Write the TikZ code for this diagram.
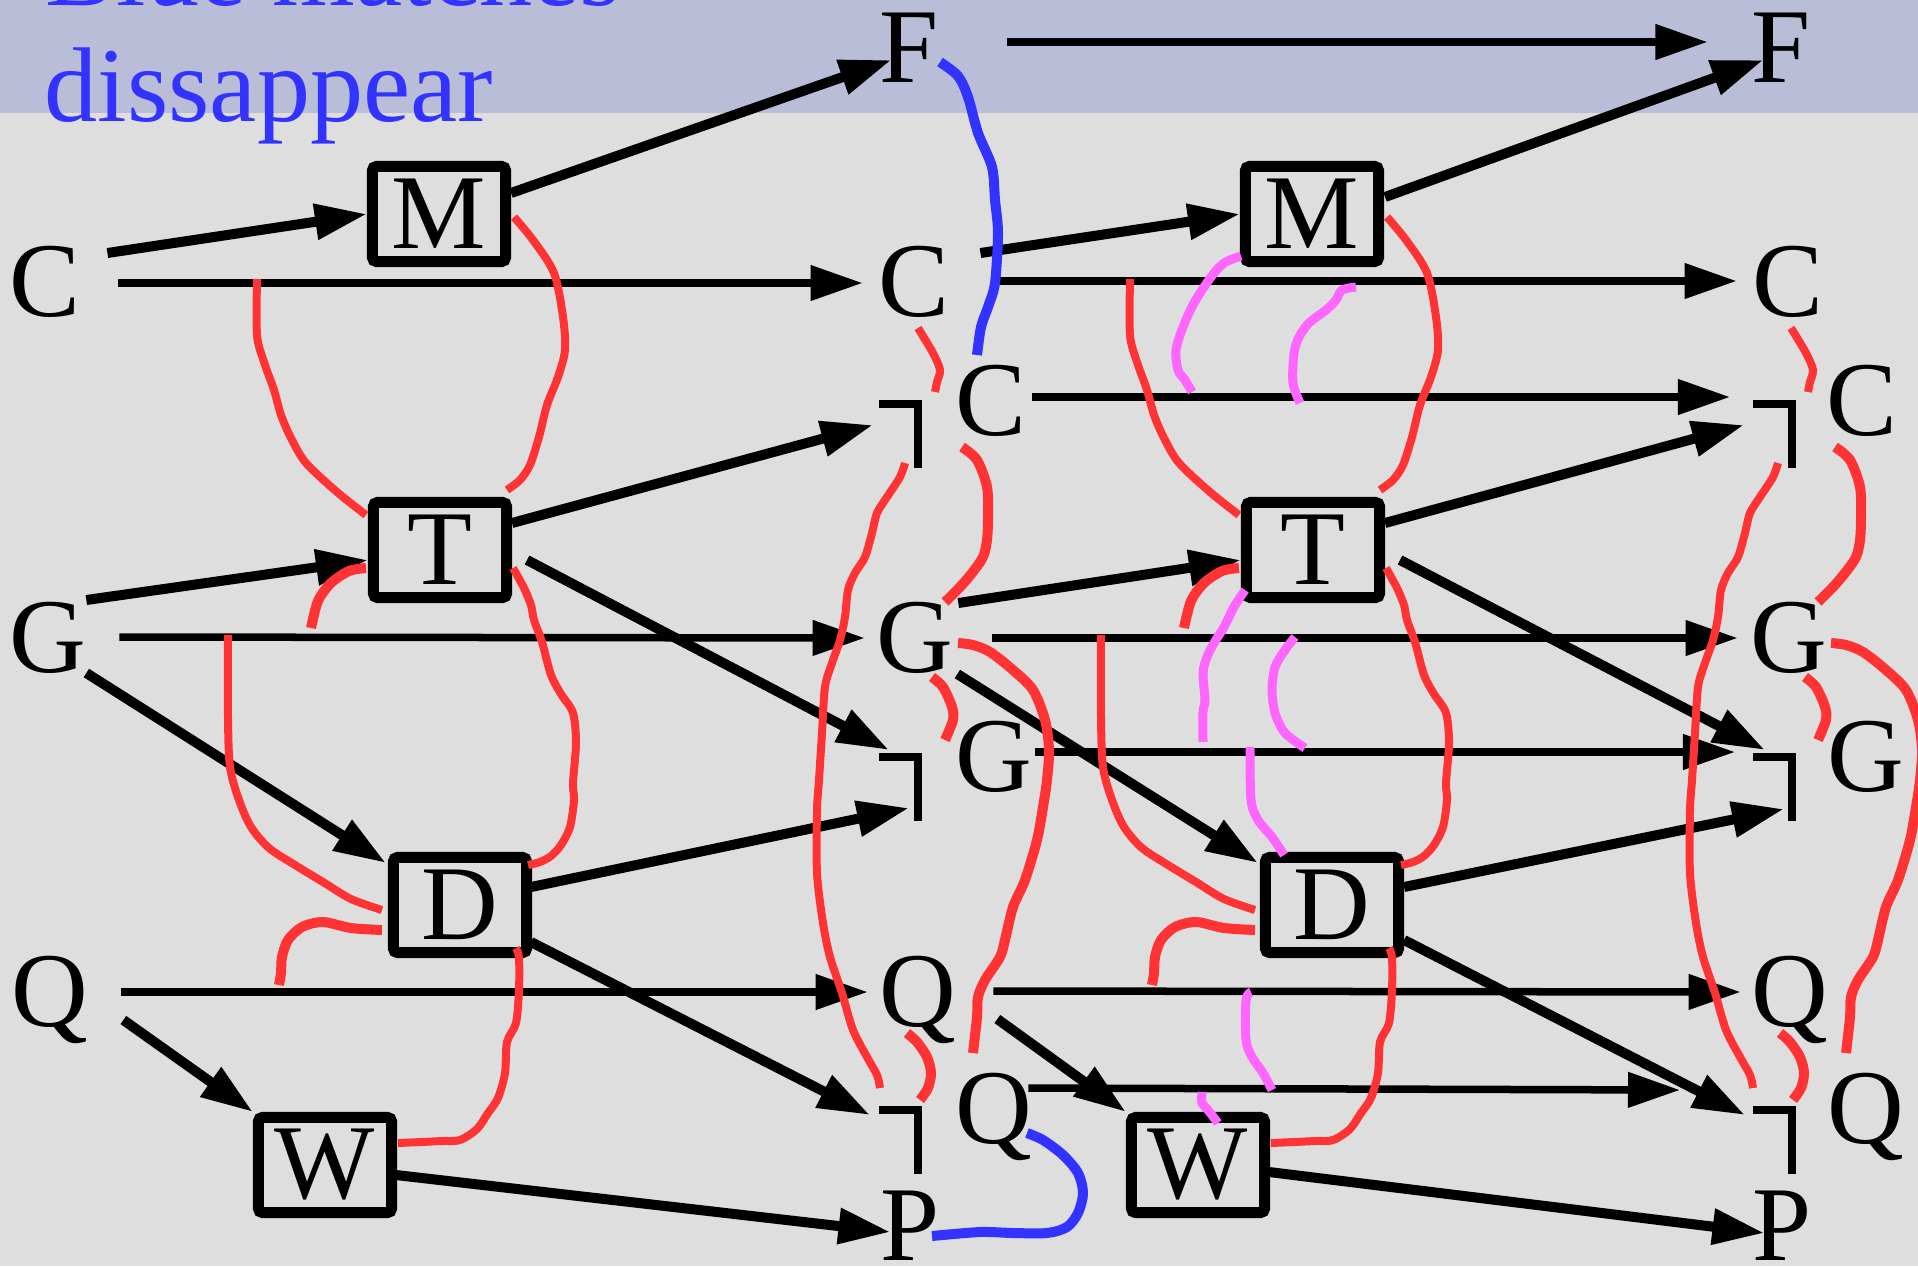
\documentclass[tikz,border=0pt]{standalone}
\usepackage{fontspec}
\setmainfont{Liberation Serif}
\usetikzlibrary{arrows.meta}
\definecolor{bgGrey}{RGB}{222,222,222}
\definecolor{bandBlue}{RGB}{185,189,216}
\definecolor{titleBlue}{RGB}{51,51,255}
\definecolor{linkRed}{RGB}{255,51,51}
\definecolor{linkPink}{RGB}{255,102,255}
\definecolor{linkBlue}{RGB}{51,51,255}
\begin{document}
\begin{tikzpicture}[x=0.01cm, y=-0.01cm,
        letter/.style={font=\fontsize{30.2pt}{36pt}\selectfont, inner sep=0pt, outer sep=0pt, anchor=base},
        gate/.style={rectangle, draw=black, line width=0.11cm, rounded corners=0.04cm, minimum width=1.33cm, minimum height=0.95cm, inner sep=0pt, font=\fontsize{30.2pt}{36pt}\selectfont},
        titleText/.style={font=\fontsize{30.2pt}{36pt}\selectfont, text=titleBlue, inner sep=0pt, anchor=base west},
        thinArrow/.style={line width=0.075cm, -{Triangle[length=0.52cm, width=0.34cm]}},
        thickArrow/.style={line width=0.1cm, -{Triangle[length=0.52cm, width=0.34cm]}},
        negSign/.style={line width=0.08cm},
        redLink/.style={draw=linkRed, line width=0.08cm},
        redLinkBold/.style={draw=linkRed, line width=0.1cm},
        pinkLink/.style={draw=linkPink, line width=0.09cm},
        blueLink/.style={draw=linkBlue, line width=0.1cm}
    ]
        \useasboundingbox (0,0) rectangle (1918,1266);
        \clip (0,0) rectangle (1918,1266);
        \fill[bgGrey] (0,0) rectangle (1918,1266);
        \fill[bandBlue] (0,0) rectangle (1918,113);
        \node[titleText] (title1) at (45,5) {Blue matches};
        \node[titleText] (title2) at (44,121) {dissappear};

        \node[letter] (c0) at (45,316) {C};
        \node[letter] (g0) at (48,672) {G};
        \node[letter] (q0) at (50,1026) {Q};

        \node[letter] (f1) at (909,82) {F};
        \node[letter] (c1) at (914,316) {C};
        \coordinate (negC1) at (879,404);
        \node[letter] (c1b) at (991,435) {C};
        \node[letter] (g1) at (915,672) {G};
        \coordinate (negG1) at (879,757);
        \node[letter] (g1b) at (994,791) {G};
        \node[letter] (q1) at (918,1026) {Q};
        \coordinate (negQ1) at (879,1110);
        \node[letter] (q1b) at (994,1143) {Q};
        \node[letter] (p1) at (910,1260) {P};

        \node[letter] (f2) at (1781,82) {F};
        \node[letter] (c2) at (1788,316) {C};
        \coordinate (negC2) at (1753,404);
        \node[letter] (c2b) at (1862,435) {C};
        \node[letter] (g2) at (1789,672) {G};
        \coordinate (negG2) at (1753,757);
        \node[letter] (g2b) at (1866,791) {G};
        \node[letter] (q2) at (1790,1026) {Q};
        \coordinate (negQ2) at (1753,1110);
        \node[letter] (q2b) at (1866,1143) {Q};
        \node[letter] (p2) at (1782,1260) {P};

        \draw[negSign] (negC1) -- ++(38.5,0) -- ++(0,64);
        \draw[negSign] (negG1) -- ++(38.5,0) -- ++(0,64);
        \draw[negSign] (negQ1) -- ++(38.5,0) -- ++(0,64);
        \draw[negSign] (negC2) -- ++(38.5,0) -- ++(0,64);
        \draw[negSign] (negG2) -- ++(38.5,0) -- ++(0,64);
        \draw[negSign] (negQ2) -- ++(38.5,0) -- ++(0,64);

        \node[gate] (m1) at (439,214) {M};
        \node[gate] (t1) at (440,550) {T};
        \node[gate] (d1) at (460,905) {D};
        \node[gate] (w1) at (325,1165) {W};
        \node[gate] (m2) at (1312,214) {M};
        \node[gate] (t2) at (1313,550) {T};
        \node[gate] (d2) at (1332,905) {D};
        \node[gate] (w2) at (1198,1165) {W};

        \draw[thickArrow] ([shift={(27,-63)}]c0.base east) -- (m1.west);
        \draw[thinArrow] ([shift={(38,-33)}]c0.base east) -- ([shift={(-16,-33)}]c1.base west);
        \draw[thickArrow] ([shift={(0,-21)}]m1.east) -- ([shift={(12,-22)}]f1.base west);
        \draw[thickArrow] ([shift={(0,-27)}]t1.east) -- ([shift={(-6,21)}]negC1);
        \draw[thickArrow] ([shift={(0,-72)}]g0.base east) -- ([shift={(0,10)}]t1.west);
        \draw[thinArrow] ([shift={(33,-35)}]g0.base east) -- ([shift={(-12,-34)}]g1.base west);
        \draw[thickArrow] ([shift={(15,10)}]t1.east) -- ([shift={(10,-7)}]negG1);
        \draw[thickArrow] ([shift={(0,1)}]g0.base east) -- ([shift={(-2,11)}]d1.north west);
        \draw[thickArrow] ([shift={(-1,-18)}]d1.east) -- ([shift={(30,51)}]negG1);
        \draw[thinArrow] ([shift={(33,-34)}]q0.base east) -- ([shift={(-12,-34)}]q1.base west);
        \draw[thickArrow] ([shift={(35,-6)}]q0.base east) -- (w1.north west);
        \draw[thickArrow] ([shift={(-1,37)}]d1.east) -- ([shift={(-9,5)}]negQ1);
        \draw[thickArrow] ([shift={(-1,10)}]w1.east) -- ([shift={(10,-28)}]p1.base west);
        \draw[thinArrow] ([shift={(68,-40)}]f1.base east) -- ([shift={(-44,-40)}]f2.base west);

        \draw[thickArrow] ([shift={(31,-63)}]c1.base east) -- (m2.west);
        \draw[thinArrow] ([shift={(46,-35)}]c1.base east) -- ([shift={(-16,-35)}]c2.base west);
        \draw[thickArrow] ([shift={(1,-17)}]m2.east) -- ([shift={(12,-22)}]f2.base west);
        \draw[thinArrow] ([shift={(6,-38)}]c1b.base east) -- ([shift={(-23,-7)}]negC2);
        \draw[thickArrow] ([shift={(0,-27)}]t2.east) -- ([shift={(-9,21)}]negC2);
        \draw[thickArrow] ([shift={(5,-69)}]g1.base east) -- ([shift={(0,10)}]t2.west);
        \draw[thinArrow] ([shift={(39,-34)}]g1.base east) -- ([shift={(-13,-34)}]g2.base west);
        \draw[thickArrow] ([shift={(15,10)}]t2.east) -- ([shift={(12,-7)}]negG2);
        \draw[thinArrow] ([shift={(3,-39)}]g1b.base east) -- ([shift={(-18,-5)}]negG2);
        \draw[thickArrow] ([shift={(4,2)}]g1.base east) -- ([shift={(-2,11)}]d2.north west);
        \draw[thickArrow] ([shift={(0,-18)}]d2.east) -- ([shift={(31,52)}]negG2);
        \draw[thinArrow] ([shift={(37,-35)}]q1.base east) -- ([shift={(-11,-34)}]q2.base west);
        \draw[thickArrow] ([shift={(41,-7)}]q1.base east) -- (w2.north west);
        \draw[thinArrow] ([shift={(-4,-55)}]q1b.base east) -- ([shift={(-73,-20)}]negQ2);
        \draw[thickArrow] ([shift={(0,35)}]d2.east) -- ([shift={(-8,5)}]negQ2);
        \draw[thickArrow] ([shift={(-1,7)}]w2.east) -- ([shift={(12,-27)}]p2.base west);

        \foreach \dx in {0,873}{
            \begin{scope}[shift={(\dx,0)}]
                \draw[redLink] plot[smooth] coordinates {(257,279) (257,335) (264,362) (274,390) (281,415) (291,438) (306,463) (337,492) (366,515)};
                \draw[redLink] plot[smooth] coordinates {(514,217) (533,240) (554,273) (563,317) (565,350) (558,377) (547,405) (539,437) (530,465) (520,480) (507,490)};
                \draw[redLinkBold] plot[smooth] coordinates {(366,568) (349,571) (331,583) (318,601) (311,628)};
                \draw[redLink] plot[smooth] coordinates {(228,635) (228,717) (230,767) (239,800) (251,827) (269,848) (295,865) (323,882) (351,899) (382,910)};
                \draw[redLink] plot[smooth] coordinates {(513,568) (524,588) (531,605) (534,620) (542,642) (551,675) (561,694) (573,713) (576,743) (573,783) (574,800) (570,827) (561,845) (551,856) (540,862) (528,865)};
                \draw[redLinkBold] plot[smooth] coordinates {(382,930) (351,928) (323,922) (302,927) (288,940) (282,957) (281,973) (279,985)};
                \draw[redLink] plot[smooth] coordinates {(516,948) (519,958) (519,990) (516,1023) (507,1042) (505,1073) (498,1098) (488,1113) (477,1129) (460,1140) (442,1141) (421,1142) (398,1143)};
                \draw[redLink] plot[smooth] coordinates {(918,328) (933,353) (940,370) (937,382) (935,392)};
                \draw[redLink] plot[smooth] coordinates {(905,463) (900,477) (887,497) (877,513) (872,533) (865,557) (855,573) (848,590) (845,617) (840,640) (832,663) (825,687) (822,733) (819,780) (817,810) (817,873) (823,923) (830,957) (842,993) (853,1030) (867,1057) (877,1075) (880,1088)};
                \draw[redLinkBold] plot[smooth] coordinates {(962,447) (977,460) (987,487) (988,517) (987,540) (983,557) (972,573) (960,587) (945,602)};
                \draw[redLinkBold] plot[smooth] coordinates {(932,677) (943,687) (952,707) (953,720) (945,740)};
                \draw[redLinkBold] plot[smooth] coordinates {(958,643) (973,645) (990,652) (1013,670) (1033,690) (1045,720) (1049,750) (1047,780) (1043,807) (1037,840) (1025,880) (1013,907) (1005,940) (1000,957) (985,980) (978,997) (977,1017) (973,1053)};
                \draw[redLinkBold] plot[smooth] coordinates {(907,1033) (917,1042) (927,1057) (931,1073) (928,1088) (920,1100)};
            \end{scope}
        }

        \draw[pinkLink] plot[smooth] coordinates {(1241,256) (1224,263) (1211,277) (1194,303) (1183,327) (1176,350) (1178,370) (1185,380) (1192,392)};
        \draw[pinkLink] plot[smooth] coordinates {(1356,287) (1342,290) (1336,300) (1326,310) (1309,323) (1299,337) (1294,353) (1293,383) (1300,403)};
        \draw[pinkLink] plot[smooth] coordinates {(1245,590) (1234,607) (1224,627) (1214,643) (1207,657) (1203,673) (1205,700) (1203,712) (1203,742)};
        \draw[pinkLink] plot[smooth] coordinates {(1295,637) (1285,650) (1275,667) (1272,690) (1275,713) (1285,733) (1305,748)};
        \draw[pinkLink] plot[smooth] coordinates {(1250,747) (1251,800) (1258,820) (1272,837) (1284,855)};
        \draw[pinkLink] plot[smooth] coordinates {(1251,992) (1246,1000) (1246,1040) (1252,1057) (1263,1073) (1272,1090)};
        \draw[pinkLink] plot[smooth] coordinates {(1202,1092) (1202,1103) (1208,1110) (1218,1123)};

        \draw[blueLink] plot[smooth] coordinates {(940,62) (958,76) (968,97) (978,133) (992,167) (995,200) (998,233) (995,283) (988,307) (981,327) (977,355)};
        \draw[blueLink] plot[smooth] coordinates {(1027,1133) (1043,1140) (1063,1155) (1078,1173) (1083,1193) (1078,1213) (1067,1227) (1047,1233) (1013,1233) (980,1232) (932,1236)};
    \end{tikzpicture}
\end{document}
